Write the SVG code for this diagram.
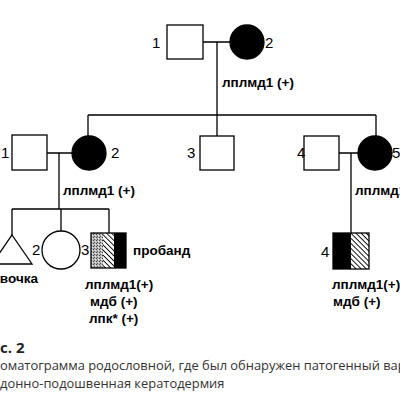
<svg xmlns="http://www.w3.org/2000/svg" width="400" height="400" viewBox="0 0 400 400">
<style>
.n{fill:#fff;stroke:#000;stroke-width:1.3}
.f{fill:#000;stroke:#000;stroke-width:1.3}
.c{fill:none;stroke:#000;stroke-width:1.3}
.num{font-family:"Liberation Sans",Arial,sans-serif;font-size:15px;fill:#000}
.lb{font-family:"Liberation Sans",Arial,sans-serif;font-size:13.5px;font-weight:bold;fill:#000}
.cap{font-family:"Open Sans","Noto Sans",sans-serif;font-size:12.9px;fill:#333}
.capb{font-family:"Open Sans","Noto Sans",sans-serif;font-size:15px;font-weight:bold;fill:#222}
</style>
<defs>
<pattern id="hatch" width="3.6" height="3.6" patternUnits="userSpaceOnUse" patternTransform="rotate(-45)">
<rect width="3.6" height="3.6" fill="#fff"/>
<line x1="0" y1="0" x2="0" y2="3.6" stroke="#000" stroke-width="1.8"/>
</pattern>
<pattern id="stip" width="3" height="3" patternUnits="userSpaceOnUse">
<rect width="3" height="3" fill="#b8b8b8"/>
<rect x="0" y="0" width="1" height="1" fill="#444"/>
<rect x="2" y="1" width="1" height="1" fill="#e8e8e8"/>
<rect x="1" y="2" width="1" height="1" fill="#555"/>
</pattern>
</defs>
<g id="connectors">
<path class="c" d="M203 42H230M217 42V115M88 115H376M88 115V136M217 115V136M376 115V136"/>
<path class="c" d="M47 153H72M59 153V209M12 209H109M12 209V235M61 209V231M109 209V233"/>
<path class="c" d="M339 153H358M351 153V233"/>
</g>
<g id="I-1"><rect class="n" x="167" y="25" width="36" height="34"/><text class="num" x="152" y="48">1</text></g>
<g id="I-2"><circle class="f" cx="247" cy="42" r="17"/><text class="num" x="265" y="48">2</text><text class="lb" x="222" y="87">лплмд1 (+)</text></g>
<g id="II-1"><rect class="n" x="12" y="135" width="35" height="35"/><text class="num" x="1" y="158">1</text></g>
<g id="II-2"><circle class="f" cx="89" cy="153" r="17"/><text class="num" x="111" y="158">2</text><text class="lb" x="63" y="195">лплмд1 (+)</text></g>
<g id="II-3"><rect class="n" x="200" y="136" width="34" height="34"/><text class="num" x="187" y="158">3</text></g>
<g id="II-4"><rect class="n" x="304" y="136" width="35" height="34"/><text class="num" x="297" y="158">4</text></g>
<g id="II-5"><circle class="f" cx="375" cy="153" r="17"/><text class="num" x="392" y="158">5</text><text class="lb" x="355" y="195">лплмд1 (+)</text></g>
<g id="III-1"><polygon class="n" points="12,235 32,264 -8,264"/><text class="lb" x="38" y="283" text-anchor="end">вочка</text></g>
<g id="III-2"><circle class="n" cx="61" cy="250" r="19"/><text class="num" x="32" y="255">2</text></g>
<g id="III-3">
<rect x="91" y="233" width="12" height="35" fill="url(#stip)"/>
<rect x="103" y="233" width="11" height="35" fill="url(#hatch)"/>
<rect x="114" y="233" width="12" height="35" fill="#000"/>
<rect class="c" x="91" y="233" width="35" height="35"/>
<text class="num" x="81" y="255">3</text>
<text class="lb" x="133" y="255">пробанд</text>
<text class="lb" x="85" y="289">лплмд1(+)</text>
<text class="lb" x="90" y="306">мдб (+)</text>
<text class="lb" x="89" y="323">лпк* (+)</text>
</g>
<g id="III-4">
<rect x="333" y="233" width="18" height="36" fill="#000"/>
<rect x="351" y="233" width="18" height="36" fill="url(#hatch)"/>
<rect class="c" x="333" y="233" width="36" height="36"/>
<text class="num" x="321" y="257">4</text>
<text class="lb" x="332" y="289" font-size="13">лплмд1(+)</text>
<text class="lb" x="333" y="306">мдб (+)</text>
</g>
<g id="caption">
<text class="capb" x="0" y="353">с. 2</text>
<text class="cap" x="0" y="370">оматограмма родословной, где был обнаружен патогенный вар</text>
<text class="cap" x="0" y="388">донно-подошвенная кератодермия</text>
</g>
</svg>
